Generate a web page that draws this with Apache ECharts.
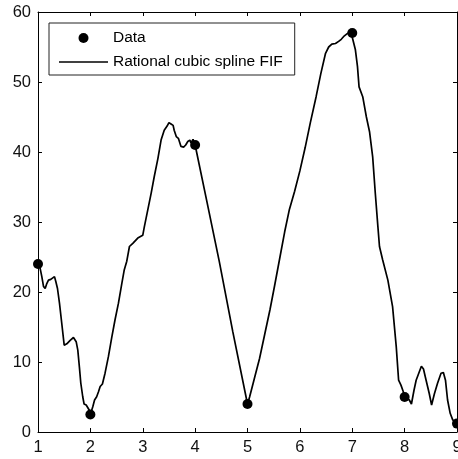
<!DOCTYPE html>
<html>
<head>
    <meta charset="utf-8">
    <script src="https://cdn.jsdelivr.net/npm/echarts@6/dist/echarts.min.js"></script>
    <style>
        html, body { margin: 0; padding: 0; background: #fff; }
        #container { width: 458px; height: 459px; }
    </style>
</head>
<body>
<div id="container"></div>
<script>
    // interpolation points (data markers)
    let dataX = [1, 2, 4, 5, 7, 8, 9];
    let dataY = [24, 2.5, 41, 4, 57, 5, 1.2];

    // rational cubic spline FIF curve
    let fifX = [
        1.0, 1.04, 1.073, 1.105, 1.137, 1.168, 1.2, 1.244, 1.282, 1.315, 1.34, 1.372, 1.41, 1.454, 1.5,
        1.55, 1.614, 1.677, 1.729, 1.76, 1.79, 1.817, 1.855, 1.88, 1.92, 1.95, 1.98, 2.0,
        2.046, 2.08, 2.12, 2.155, 2.187, 2.23, 2.28, 2.345, 2.41, 2.47, 2.536, 2.6, 2.645, 2.695,
        2.746, 2.81, 2.905, 3.0,
        3.03, 3.095, 3.16, 3.22, 3.29, 3.35, 3.41, 3.465, 3.5, 3.54, 3.58, 3.6, 3.64, 3.68, 3.73,
        3.78, 3.82, 3.86, 3.9, 3.92, 3.96, 4.0,
        4.22, 4.46, 4.72, 5.0,
        5.04, 5.13, 5.23, 5.33, 5.43, 5.52, 5.62, 5.71, 5.8, 5.9, 6.0, 6.1, 6.2, 6.31, 6.4, 6.49,
        6.55, 6.61, 6.68, 6.74, 6.79, 6.85, 6.91, 6.98, 7.0,
        7.06, 7.1, 7.13, 7.2, 7.27, 7.33, 7.39, 7.44, 7.49, 7.52, 7.58, 7.68, 7.77, 7.84, 7.885,
        7.93, 7.975, 8.0,
        8.09, 8.13, 8.18, 8.22, 8.27, 8.32, 8.36, 8.41, 8.47, 8.515, 8.57, 8.63, 8.695, 8.74, 8.78,
        8.82, 8.87, 8.92, 8.97, 9.0
    ];
    let fifY = [
        24.0, 23.4, 22.2, 20.8, 20.5, 21.2, 21.7, 21.8, 21.95, 22.2, 21.5, 20.5, 18.4, 15.5, 12.4,
        12.6, 13.1, 13.5, 12.9, 11.7, 9.3, 7.0, 5.0, 4.0, 3.86, 3.6, 3.1, 2.5,
        3.6, 4.57, 5.04, 5.76, 6.5, 6.86, 8.4, 10.8, 13.6, 16.0, 18.4, 21.2, 23.1, 24.4,
        26.5, 26.95, 27.7, 28.1,
        29.3, 31.7, 34.1, 36.5, 39.1, 41.7, 43.1, 43.7, 44.2, 44.0, 43.8, 43.1, 42.2, 41.95, 40.8,
        40.7, 41.0, 41.5, 41.7, 41.3, 41.8, 41.0,
        33.1, 24.4, 14.3, 4.0,
        5.0, 7.6, 10.5, 14.0, 17.5, 21.0, 25.0, 28.6, 31.8, 34.4, 37.3, 40.6, 44.2, 47.9, 51.2, 54.1,
        55.0, 55.4, 55.5, 55.8, 56.1, 56.6, 56.95, 57.0, 57.0,
        54.6, 52.2, 49.3, 47.9, 45.0, 42.9, 39.3, 34.1, 29.3, 26.5, 24.6, 21.7, 17.9, 12.2, 7.4,
        6.7, 5.76, 5.0,
        4.57, 4.0, 6.0, 7.4, 8.4, 9.4, 9.0, 7.4, 5.5, 3.86, 5.5, 7.0, 8.4, 8.5, 7.4,
        4.57, 2.67, 1.7, 1.5, 1.2
    ];

    let xTicks = [1, 9, 1];   // min, max, step
    let yTicks = [0, 60, 10];

    let font = 'Liberation Sans';

    function pairs(xs, ys) {
        let out = [];
        for (let i = 0; i < xs.length; i++) out.push([xs[i], ys[i]]);
        return out;
    }

    function frameAxis(pos, ticks, labels) {
        return {
            type: 'value',
            position: pos,
            min: ticks[0],
            max: ticks[1],
            interval: ticks[2],
            axisLine: {show: true, onZero: false, lineStyle: {color: '#000', width: 1}},
            axisTick: {show: true, inside: true, length: 4, lineStyle: {color: '#000'}},
            axisLabel: {show: labels, fontSize: 16.5, color: '#111', fontFamily: font, margin: 7},
            splitLine: {show: false}
        };
    }

    let myChart = echarts.init(document.getElementById('container'));
    let option = {
        animation: false,
        backgroundColor: '#fff',
        // frame runs to the window edge, the last x label gets cut like in the original
        grid: {left: 38, right: 1, top: 12, bottom: 27, containLabel: false, outerBoundsMode: 'none'},
        xAxis: [frameAxis('bottom', xTicks, true), frameAxis('top', xTicks, false)],
        yAxis: [frameAxis('left', yTicks, true), frameAxis('right', yTicks, false)],
        legend: {
            orient: 'vertical',
            left: 49,
            top: 23,
            padding: [7, 12, 5, 10],
            itemGap: 8,
            itemWidth: 49,
            itemHeight: 10,
            symbolKeepAspect: true,
            borderColor: '#222',
            borderWidth: 1,
            backgroundColor: '#fff',
            textStyle: {fontSize: 15.5, color: '#000', fontFamily: font},
            data: [
                {name: 'Data', icon: 'circle'},
                // plain line, no marker in the legend
                {name: 'Rational cubic spline FIF', icon: 'path://M0,0 L49,0 L49,1.6 L0,1.6 Z'}
            ]
        },
        series: [
            {
                name: 'Rational cubic spline FIF',
                type: 'line',
                data: pairs(fifX, fifY),
                symbol: 'none',
                lineStyle: {color: '#000', width: 1.7},
                itemStyle: {color: '#000'},
                z: 2
            },
            {
                name: 'Data',
                type: 'scatter',
                data: pairs(dataX, dataY),
                symbolSize: 10,
                itemStyle: {color: '#000', opacity: 1},
                clip: false,
                z: 3
            }
        ]
    };
    myChart.setOption(option);
</script>
</body>
</html>
